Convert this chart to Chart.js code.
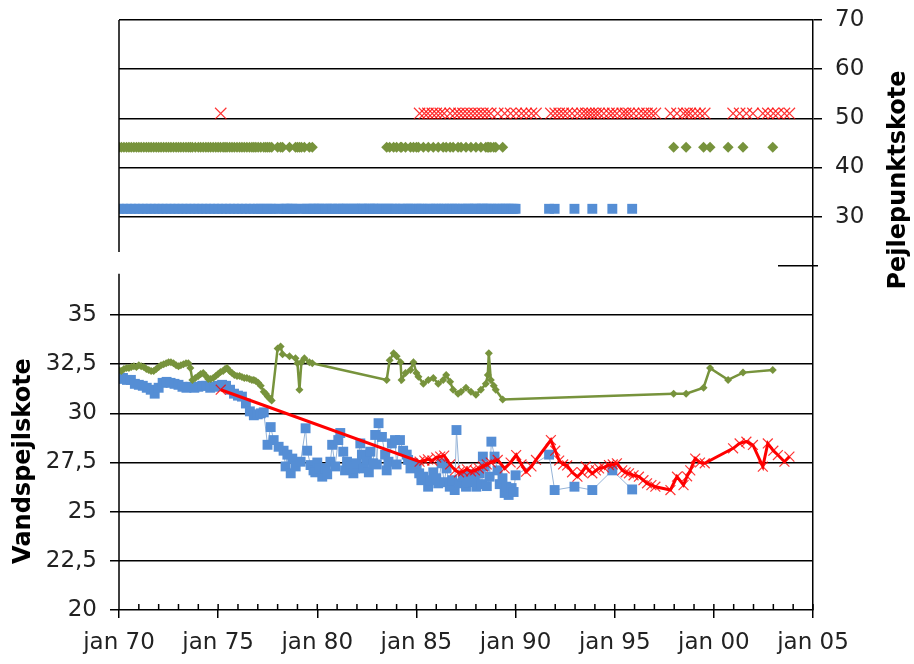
<!DOCTYPE html>
<html>
<head>
<meta charset="utf-8">
<script src="https://cdn.jsdelivr.net/npm/chart.js@4.4.1/dist/chart.umd.min.js"></script>
<style>
  html, body { margin: 0; padding: 0; background: #fff; }
  #wrap { width: 914px; height: 664px; }
</style>
</head>
<body>
<div id="wrap"><canvas id="pejling-chart" width="914" height="664"></canvas></div>
<script>
// ---------------------------------------------------------------------------------------
// data (år som decimaltal, koter i m)

var blueYears = [
  1970.0, 1970.2, 1970.4, 1970.6, 1970.8, 1971.0, 1971.2, 1971.4, 1971.6, 1971.8,
  1972.0, 1972.2, 1972.4, 1972.6, 1972.8, 1973.0, 1973.2, 1973.4, 1973.6, 1973.8,
  1974.0, 1974.2, 1974.4, 1974.6, 1974.8, 1975.0, 1975.2, 1975.4, 1975.6, 1975.8,
  1976.0, 1976.2, 1976.4, 1976.6, 1976.8, 1977.0, 1977.15, 1977.3, 1977.49, 1977.65,
  1977.8, 1978.05, 1978.3, 1978.4, 1978.49, 1978.66, 1978.74, 1978.91, 1979.16, 1979.41,
  1979.49, 1979.66, 1979.81, 1979.9, 1980.0, 1980.1, 1980.25, 1980.41, 1980.5, 1980.66,
  1980.75, 1980.9, 1981.06, 1981.16, 1981.31, 1981.4, 1981.5, 1981.67, 1981.82, 1981.9,
  1982.0, 1982.17, 1982.25, 1982.35, 1982.5, 1982.6, 1982.67, 1982.82, 1982.92, 1983.0,
  1983.09, 1983.26, 1983.42, 1983.5, 1983.59, 1983.76, 1983.92, 1984.0, 1984.17, 1984.33,
  1984.51, 1984.58, 1984.7, 1984.83, 1985.01, 1985.14, 1985.25, 1985.34, 1985.59, 1985.7,
  1985.85, 1986.0, 1986.1, 1986.27, 1986.4, 1986.52, 1986.68, 1986.8, 1986.93, 1987.02,
  1987.19, 1987.34, 1987.5, 1987.6, 1987.68, 1987.85, 1987.95, 1988.02, 1988.19, 1988.3,
  1988.35, 1988.44, 1988.55, 1988.69, 1988.78, 1988.94, 1989.09, 1989.2, 1989.34, 1989.45,
  1989.53, 1989.65, 1989.8, 1989.9, 1990.0, 1991.69, 1991.97, 1992.97, 1993.87, 1994.88,
  1995.88
];
var blueLevels = [
  31.75, 31.8, 31.7, 31.7, 31.5, 31.45, 31.4, 31.3, 31.2, 31.0,
  31.3, 31.55, 31.6, 31.55, 31.5, 31.45, 31.35, 31.3, 31.35, 31.3,
  31.35, 31.4, 31.4, 31.3, 31.35, 31.4, 31.45, 31.4, 31.2, 31.0,
  30.9, 30.85, 30.5, 30.1, 29.9, 29.95, 30.0, 30.05, 28.4, 29.3,
  28.64, 28.3, 28.1, 27.3, 27.9, 26.95, 27.7, 27.3, 27.54, 29.24,
  28.1, 27.37, 27.1, 27.0, 27.5, 27.2, 26.78, 27.2, 26.9, 27.54,
  28.4, 27.3, 28.64, 29.0, 28.05, 27.1, 27.54, 27.3, 26.95, 27.2,
  27.46, 28.47, 27.9, 27.2, 27.63, 27.0, 28.05, 27.46, 28.9, 27.4,
  29.5, 28.8, 27.9, 27.1, 27.54, 28.47, 28.64, 27.4, 28.64, 28.1,
  27.9, 27.63, 27.2, 27.46, 27.3, 26.95, 26.6, 26.78, 26.27, 26.6,
  27.0, 26.7, 26.44, 27.46, 26.5, 27.2, 26.27, 26.6, 26.1, 29.15,
  26.44, 26.78, 26.27, 26.5, 26.9, 26.52, 26.7, 26.27, 26.95, 26.4,
  27.8, 27.3, 26.3, 26.78, 28.56, 27.8, 27.1, 26.4, 26.7, 25.95,
  26.27, 25.85, 26.2, 26.0, 26.85, 27.9, 26.1, 26.27, 26.1, 27.1,
  26.13
];

var greenYears = [
  1970.0, 1970.12, 1970.25, 1970.38, 1970.5, 1970.62, 1970.75, 1970.88, 1971.0, 1971.12,
  1971.25, 1971.38, 1971.5, 1971.62, 1971.75, 1971.88, 1972.0, 1972.12, 1972.25, 1972.38,
  1972.5, 1972.62, 1972.75, 1972.88, 1973.0, 1973.12, 1973.25, 1973.38, 1973.5, 1973.6,
  1973.7, 1973.85, 1974.0, 1974.12, 1974.25, 1974.38, 1974.5, 1974.62, 1974.75, 1974.88,
  1975.0, 1975.12, 1975.25, 1975.35, 1975.45, 1975.58, 1975.7, 1975.82, 1975.95, 1976.08,
  1976.2, 1976.32, 1976.45, 1976.58, 1976.7, 1976.8, 1976.9, 1977.02, 1977.15, 1977.3,
  1977.4, 1977.5, 1977.6, 1977.7, 1978.0, 1978.15, 1978.25, 1978.6, 1978.9, 1979.0,
  1979.1, 1979.2, 1979.35, 1979.6, 1979.75, 1983.5, 1983.65, 1983.85, 1984.0, 1984.2,
  1984.25, 1984.45, 1984.7, 1984.85, 1985.0, 1985.1, 1985.35, 1985.6, 1985.85, 1986.1,
  1986.35, 1986.5, 1986.7, 1986.85, 1987.1, 1987.25, 1987.5, 1987.75, 1988.0, 1988.25,
  1988.5, 1988.6, 1988.65, 1988.75, 1988.9, 1989.0, 1989.35, 1997.97, 1998.6, 1999.48,
  1999.81, 2000.72, 2001.47, 2002.97
];
var greenLevels = [
  32.2, 32.15, 32.25, 32.3, 32.3, 32.35, 32.4, 32.35, 32.45, 32.4,
  32.35, 32.25, 32.2, 32.15, 32.15, 32.25, 32.35, 32.45, 32.5, 32.55,
  32.6, 32.6, 32.55, 32.45, 32.4, 32.45, 32.5, 32.55, 32.55, 32.3,
  31.7, 31.8, 31.9, 32.0, 32.05, 31.9, 31.75, 31.75, 31.8, 31.9,
  32.0, 32.1, 32.15, 32.25, 32.3, 32.15, 32.05, 31.95, 31.9, 31.9,
  31.85, 31.8, 31.8, 31.75, 31.7, 31.7, 31.65, 31.55, 31.4, 31.1,
  31.0, 30.85, 30.75, 30.65, 33.3, 33.4, 33.0, 32.9, 32.8, 32.55,
  31.2, 32.6, 32.8, 32.6, 32.55, 31.7, 32.7, 33.05, 32.9, 32.6,
  31.7, 32.05, 32.2, 32.6, 32.05, 31.86, 31.5, 31.7, 31.8, 31.5,
  31.7, 31.95, 31.6, 31.2, 31.0, 31.1, 31.3, 31.1, 30.95, 31.2,
  31.5, 31.95, 33.05, 31.7, 31.4, 31.2, 30.7, 31.0, 31.0, 31.3,
  32.3, 31.7, 32.07, 32.2
];

var redYears = [
  1975.13, 1985.16, 1985.4, 1985.58, 1985.8, 1986.0, 1986.2, 1986.4, 1986.7, 1986.95,
  1987.15, 1987.35, 1987.55, 1987.75, 1987.95, 1988.15, 1988.35, 1988.55, 1988.75, 1989.1,
  1989.45, 1989.75, 1990.03, 1990.3, 1990.53, 1990.8, 1991.03, 1991.78, 1992.0, 1992.2,
  1992.4, 1992.6, 1992.85, 1993.12, 1993.35, 1993.54, 1993.7, 1993.87, 1994.05, 1994.21,
  1994.45, 1994.71, 1994.9, 1995.11, 1995.38, 1995.55, 1995.72, 1995.95, 1996.22, 1996.45,
  1996.63, 1996.85, 1997.05, 1997.81, 1998.14, 1998.47, 1998.65, 1998.81, 1999.06, 1999.3,
  1999.54, 2000.97, 2001.3, 2001.64, 2001.97, 2002.47, 2002.72, 2003.0, 2003.23, 2003.56,
  2003.81
];
var redLevels = [
  31.2, 27.54, 27.6, 27.66, 27.6, 27.75, 27.8, 27.85, 27.4, 27.1,
  27.0, 27.05, 27.15, 27.05, 27.1, 27.2, 27.3, 27.4, 27.5, 27.63,
  27.2, 27.5, 27.88, 27.4, 27.03, 27.3, 27.63, 28.64, 28.1, 27.6,
  27.4, 27.35, 27.0, 26.78, 27.0, 27.3, 27.1, 26.95, 27.1, 27.2,
  27.25, 27.37, 27.4, 27.46, 27.1, 27.0, 26.95, 26.85, 26.78, 26.6,
  26.44, 26.35, 26.27, 26.1, 26.78, 26.35, 26.8, 27.1, 27.7, 27.5,
  27.46, 28.22, 28.47, 28.56, 28.39, 27.29, 28.47, 28.1, 27.88, 27.54,
  27.8
];

// pejlepunktskoter (højre akse)
var blueRef = 31.6;
var greenRef = 44.1;
var redRef = 51.0;

var xTickYears = [1970, 1975, 1980, 1985, 1990, 1995, 2000, 2005];

var blueColor = '#558ED5';
var greenColor = '#77933C';
var crossColor = 'rgba(255,0,0,0.8)';

function points(years, values) {
  var out = [];
  for (var i = 0; i < years.length; i++) out.push({x: years[i], y: values[i]});
  return out;
}
function refPoints(years, ref) {
  return years.map(function(yr){ return {x: yr, y: ref}; });
}
// faste aksebredder, ingen ekstra luft over/under
function fixWidth(w) {
  return function(scale) {
    scale.width = w;
    scale.paddingTop = 0;
    scale.paddingBottom = 0;
  };
}

// ---------------------------------------------------------------------------------------
// akser, titler og små årsstreger

var extras = {
  id: 'extras',
  afterDraw: function(chart) {
    var ctx = chart.ctx, a = chart.chartArea;
    var x = chart.scales.x, y = chart.scales.y, y2 = chart.scales.y2;
    ctx.save();
    ctx.strokeStyle = '#000';
    ctx.lineWidth = 1.5;
    ctx.beginPath();
    // venstre akse i to stykker
    ctx.moveTo(a.left, a.top);
    ctx.lineTo(a.left, y2.getPixelForValue(22.8));
    ctx.moveTo(a.left, y.getPixelForValue(37.1));
    ctx.lineTo(a.left, a.bottom);
    // rest af stregen ved 20 på højre akse
    var p20 = y2.getPixelForValue(20);
    ctx.moveTo(a.right - 35, p20);
    ctx.lineTo(a.right + 5, p20);
    for (var yr = 1970; yr <= 2005; yr++) {
      var px = x.getPixelForValue(yr);
      ctx.moveTo(px, a.bottom);
      ctx.lineTo(px, a.bottom - 6);
    }
    ctx.stroke();

    ctx.fillStyle = '#000';
    ctx.font = 'bold 24px "DejaVu Sans"';
    ctx.textAlign = 'center';
    ctx.textBaseline = 'middle';
    ctx.save();
    ctx.translate(24, 461);
    ctx.rotate(-Math.PI / 2);
    ctx.fillText('Vandspejlskote', 0, 0);
    ctx.restore();
    ctx.save();
    ctx.translate(899, 180);
    ctx.rotate(-Math.PI / 2);
    ctx.fillText('Pejlepunktskote', 0, 0);
    ctx.restore();
    ctx.restore();
  }
};

new Chart(document.getElementById('pejling-chart'), {
  type: 'line',
  data: {
    datasets: [
      {
        label: 'Vandspejl rød',
        data: points(redYears, redLevels),
        yAxisID: 'y',
        borderColor: '#FF0000',
        borderWidth: 3,
        pointStyle: 'crossRot',
        pointRadius: 7,
        pointBorderColor: crossColor,
        pointBorderWidth: 1.2,
        tension: 0
      },
      {
        label: 'Vandspejl grøn',
        data: points(greenYears, greenLevels),
        yAxisID: 'y',
        borderColor: greenColor,
        borderWidth: 2.5,
        pointStyle: 'rectRot',
        pointRadius: 4,
        pointBackgroundColor: greenColor,
        pointBorderColor: greenColor,
        pointBorderWidth: 0,
        tension: 0
      },
      {
        label: 'Vandspejl blå',
        data: points(blueYears, blueLevels),
        yAxisID: 'y',
        borderColor: '#95B3D7',
        borderWidth: 1,
        pointStyle: 'rect',
        pointRadius: 7,
        pointBackgroundColor: blueColor,
        pointBorderColor: blueColor,
        pointBorderWidth: 0,
        tension: 0
      },
      {
        label: 'Pejlepunkt rød',
        data: refPoints(redYears, redRef),
        yAxisID: 'y2',
        showLine: false,
        pointStyle: 'crossRot',
        pointRadius: 8,
        pointBorderColor: crossColor,
        pointBorderWidth: 1.2
      },
      {
        label: 'Pejlepunkt grøn',
        data: refPoints(greenYears, greenRef),
        yAxisID: 'y2',
        showLine: false,
        pointStyle: 'rectRot',
        pointRadius: 5.5,
        pointBackgroundColor: greenColor,
        pointBorderColor: greenColor,
        pointBorderWidth: 0
      },
      {
        label: 'Pejlepunkt blå',
        data: refPoints(blueYears, blueRef),
        yAxisID: 'y2',
        showLine: false,
        pointStyle: 'rect',
        pointRadius: 7,
        pointBackgroundColor: blueColor,
        pointBorderColor: blueColor,
        pointBorderWidth: 0
      }
    ]
  },
  options: {
    responsive: false,
    animation: false,
    layout: {padding: {top: 20}},
    scales: {
      x: {
        type: 'linear',
        min: 1970,
        max: 2005,
        afterFit: function(scale){ scale.height = 54; },
        afterBuildTicks: function(scale){ scale.ticks = xTickYears.map(function(v){ return {value: v}; }); },
        grid: {drawOnChartArea: false, color: '#000', lineWidth: 1.5, tickLength: 8},
        border: {display: false},
        ticks: {
          autoSkip: false,
          maxRotation: 0,
          padding: 11,
          color: '#222',
          font: {family: 'DejaVu Sans', size: 23},
          callback: function(v){ return 'jan ' + String(v % 100).padStart(2, '0'); }
        }
      },
      y: {
        position: 'left',
        min: 20,
        max: 50,
        afterFit: fixWidth(119),
        grid: {color: '#000', lineWidth: 1.5, tickLength: 9},
        border: {display: false},
        ticks: {
          stepSize: 2.5,
          padding: 13,
          color: '#222',
          font: {family: 'DejaVu Sans', size: 23},
          callback: function(v){ return v <= 35 ? String(v).replace('.', ',') : null; }
        }
      },
      y2: {
        position: 'right',
        min: -50,
        max: 70,
        afterFit: fixWidth(101),
        grid: {color: '#000', lineWidth: 1.5, tickLength: 9},
        border: {display: true, color: '#000', width: 1.5},
        ticks: {
          stepSize: 10,
          padding: 13,
          color: '#222',
          font: {family: 'DejaVu Sans', size: 23},
          callback: function(v){ return v >= 30 ? String(v) : null; }
        }
      }
    },
    plugins: {
      legend: {display: false},
      tooltip: {enabled: false}
    }
  },
  plugins: [extras]
});
</script>
</body>
</html>
